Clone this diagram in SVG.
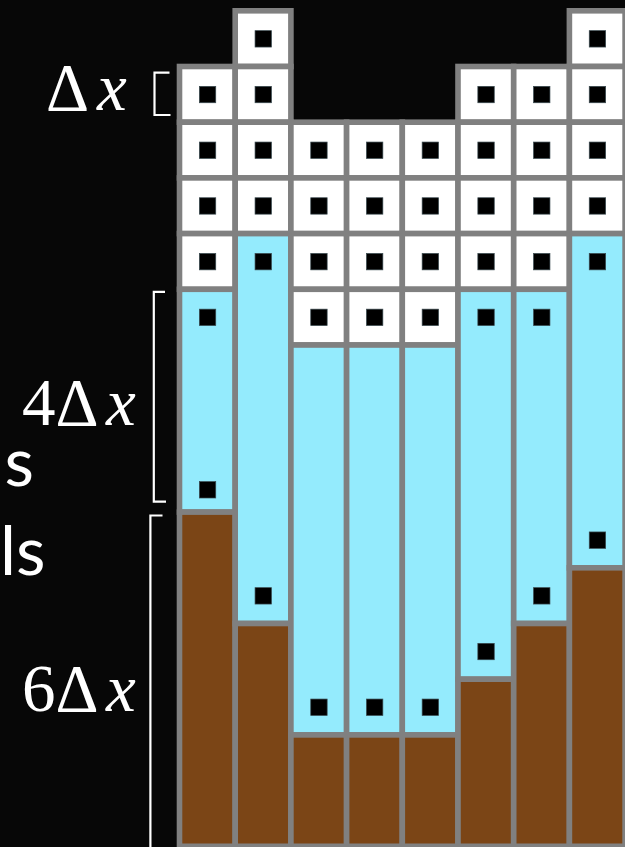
<svg xmlns="http://www.w3.org/2000/svg" width="625" height="847" viewBox="0 0 625 847">
<style>
.w{fill:#ffffff;stroke:#808080;stroke-width:5.6}
.a{fill:#94ebfd;stroke:#808080;stroke-width:5.6}
.b{fill:#7b4516;stroke:#808080;stroke-width:5.6}
.d{fill:#000;stroke:#3a4a50;stroke-width:0.7}
.br{fill:none;stroke:#fff;stroke-width:2.2}
</style>
<rect x="0" y="0" width="625" height="847" fill="#070707"/>
<g id="col1">
<rect class="w" x="179.5" y="66.5" width="55.7" height="55.7"/>
<rect class="w" x="179.5" y="122.2" width="55.7" height="55.7"/>
<rect class="w" x="179.5" y="177.9" width="55.7" height="55.7"/>
<rect class="w" x="179.5" y="233.6" width="55.7" height="55.7"/>
<rect class="a" x="179.5" y="289.3" width="55.7" height="222.8"/>
<rect class="b" x="179.5" y="512.1" width="55.7" height="334.2"/>
<rect class="d" x="199.35" y="86.35" width="16.4" height="16.4"/>
<rect class="d" x="199.35" y="142.05" width="16.4" height="16.4"/>
<rect class="d" x="199.35" y="197.75" width="16.4" height="16.4"/>
<rect class="d" x="199.35" y="253.45" width="16.4" height="16.4"/>
<rect class="d" x="199.35" y="309.15" width="16.4" height="16.4"/>
<rect class="d" x="199.35" y="481.6" width="16.4" height="16.4"/>
</g>
<g id="col2">
<rect class="w" x="235.2" y="10.8" width="55.7" height="55.7"/>
<rect class="w" x="235.2" y="66.5" width="55.7" height="55.7"/>
<rect class="w" x="235.2" y="122.2" width="55.7" height="55.7"/>
<rect class="w" x="235.2" y="177.9" width="55.7" height="55.7"/>
<rect class="a" x="235.2" y="233.6" width="55.7" height="389.9"/>
<rect class="b" x="235.2" y="623.5" width="55.7" height="222.8"/>
<rect class="d" x="255.05" y="30.65" width="16.4" height="16.4"/>
<rect class="d" x="255.05" y="86.35" width="16.4" height="16.4"/>
<rect class="d" x="255.05" y="142.05" width="16.4" height="16.4"/>
<rect class="d" x="255.05" y="197.75" width="16.4" height="16.4"/>
<rect class="d" x="255.05" y="253.45" width="16.4" height="16.4"/>
<rect class="d" x="255.05" y="587.65" width="16.4" height="16.4"/>
</g>
<g id="col3">
<rect class="w" x="290.9" y="122.2" width="55.7" height="55.7"/>
<rect class="w" x="290.9" y="177.9" width="55.7" height="55.7"/>
<rect class="w" x="290.9" y="233.6" width="55.7" height="55.7"/>
<rect class="w" x="290.9" y="289.3" width="55.7" height="55.7"/>
<rect class="a" x="290.9" y="345" width="55.7" height="389.9"/>
<rect class="b" x="290.9" y="734.9" width="55.7" height="111.4"/>
<rect class="d" x="310.75" y="142.05" width="16.4" height="16.4"/>
<rect class="d" x="310.75" y="197.75" width="16.4" height="16.4"/>
<rect class="d" x="310.75" y="253.45" width="16.4" height="16.4"/>
<rect class="d" x="310.75" y="309.15" width="16.4" height="16.4"/>
<rect class="d" x="310.75" y="699.05" width="16.4" height="16.4"/>
</g>
<g id="col4">
<rect class="w" x="346.6" y="122.2" width="55.7" height="55.7"/>
<rect class="w" x="346.6" y="177.9" width="55.7" height="55.7"/>
<rect class="w" x="346.6" y="233.6" width="55.7" height="55.7"/>
<rect class="w" x="346.6" y="289.3" width="55.7" height="55.7"/>
<rect class="a" x="346.6" y="345" width="55.7" height="389.9"/>
<rect class="b" x="346.6" y="734.9" width="55.7" height="111.4"/>
<rect class="d" x="366.45" y="142.05" width="16.4" height="16.4"/>
<rect class="d" x="366.45" y="197.75" width="16.4" height="16.4"/>
<rect class="d" x="366.45" y="253.45" width="16.4" height="16.4"/>
<rect class="d" x="366.45" y="309.15" width="16.4" height="16.4"/>
<rect class="d" x="366.45" y="699.05" width="16.4" height="16.4"/>
</g>
<g id="col5">
<rect class="w" x="402.3" y="122.2" width="55.7" height="55.7"/>
<rect class="w" x="402.3" y="177.9" width="55.7" height="55.7"/>
<rect class="w" x="402.3" y="233.6" width="55.7" height="55.7"/>
<rect class="w" x="402.3" y="289.3" width="55.7" height="55.7"/>
<rect class="a" x="402.3" y="345" width="55.7" height="389.9"/>
<rect class="b" x="402.3" y="734.9" width="55.7" height="111.4"/>
<rect class="d" x="422.15" y="142.05" width="16.4" height="16.4"/>
<rect class="d" x="422.15" y="197.75" width="16.4" height="16.4"/>
<rect class="d" x="422.15" y="253.45" width="16.4" height="16.4"/>
<rect class="d" x="422.15" y="309.15" width="16.4" height="16.4"/>
<rect class="d" x="422.15" y="699.05" width="16.4" height="16.4"/>
</g>
<g id="col6">
<rect class="w" x="458" y="66.5" width="55.7" height="55.7"/>
<rect class="w" x="458" y="122.2" width="55.7" height="55.7"/>
<rect class="w" x="458" y="177.9" width="55.7" height="55.7"/>
<rect class="w" x="458" y="233.6" width="55.7" height="55.7"/>
<rect class="a" x="458" y="289.3" width="55.7" height="389.9"/>
<rect class="b" x="458" y="679.2" width="55.7" height="167.1"/>
<rect class="d" x="477.85" y="86.35" width="16.4" height="16.4"/>
<rect class="d" x="477.85" y="142.05" width="16.4" height="16.4"/>
<rect class="d" x="477.85" y="197.75" width="16.4" height="16.4"/>
<rect class="d" x="477.85" y="253.45" width="16.4" height="16.4"/>
<rect class="d" x="477.85" y="309.15" width="16.4" height="16.4"/>
<rect class="d" x="477.85" y="643.35" width="16.4" height="16.4"/>
</g>
<g id="col7">
<rect class="w" x="513.7" y="66.5" width="55.7" height="55.7"/>
<rect class="w" x="513.7" y="122.2" width="55.7" height="55.7"/>
<rect class="w" x="513.7" y="177.9" width="55.7" height="55.7"/>
<rect class="w" x="513.7" y="233.6" width="55.7" height="55.7"/>
<rect class="a" x="513.7" y="289.3" width="55.7" height="334.2"/>
<rect class="b" x="513.7" y="623.5" width="55.7" height="222.8"/>
<rect class="d" x="533.55" y="86.35" width="16.4" height="16.4"/>
<rect class="d" x="533.55" y="142.05" width="16.4" height="16.4"/>
<rect class="d" x="533.55" y="197.75" width="16.4" height="16.4"/>
<rect class="d" x="533.55" y="253.45" width="16.4" height="16.4"/>
<rect class="d" x="533.55" y="309.15" width="16.4" height="16.4"/>
<rect class="d" x="533.55" y="587.65" width="16.4" height="16.4"/>
</g>
<g id="col8">
<rect class="w" x="569.4" y="10.8" width="55.7" height="55.7"/>
<rect class="w" x="569.4" y="66.5" width="55.7" height="55.7"/>
<rect class="w" x="569.4" y="122.2" width="55.7" height="55.7"/>
<rect class="w" x="569.4" y="177.9" width="55.7" height="55.7"/>
<rect class="a" x="569.4" y="233.6" width="55.7" height="334.2"/>
<rect class="b" x="569.4" y="567.8" width="55.7" height="278.5"/>
<rect class="d" x="589.25" y="30.65" width="16.4" height="16.4"/>
<rect class="d" x="589.25" y="86.35" width="16.4" height="16.4"/>
<rect class="d" x="589.25" y="142.05" width="16.4" height="16.4"/>
<rect class="d" x="589.25" y="197.75" width="16.4" height="16.4"/>
<rect class="d" x="589.25" y="253.45" width="16.4" height="16.4"/>
<rect class="d" x="589.25" y="531.95" width="16.4" height="16.4"/>
</g>
<g id="brackets">
<path class="br" d="M169.5,72.7 H154.5 V115 H170.5"/>
<path class="br" d="M165,291.8 H153.8 V501.7 H166"/>
<path class="br" d="M162.5,515.5 H150.4 V860"/>
</g>
<g id="labels" fill="#fff" font-size="67" font-family="'Liberation Serif', 'Times New Roman', serif">
<text x="46" y="110">Δ<tspan font-style="italic" x="97">x</tspan></text>
<text x="22" y="425">4Δ<tspan font-style="italic" x="106">x</tspan></text>
<text x="22" y="711">6Δ<tspan font-style="italic" x="106">x</tspan></text>
</g>
<g id="side-labels" fill="#fff" font-size="68" font-family="Lato, sans-serif">
<text x="4.5" y="486">s</text>
<text x="0" y="575">ls</text>
</g>
</svg>
